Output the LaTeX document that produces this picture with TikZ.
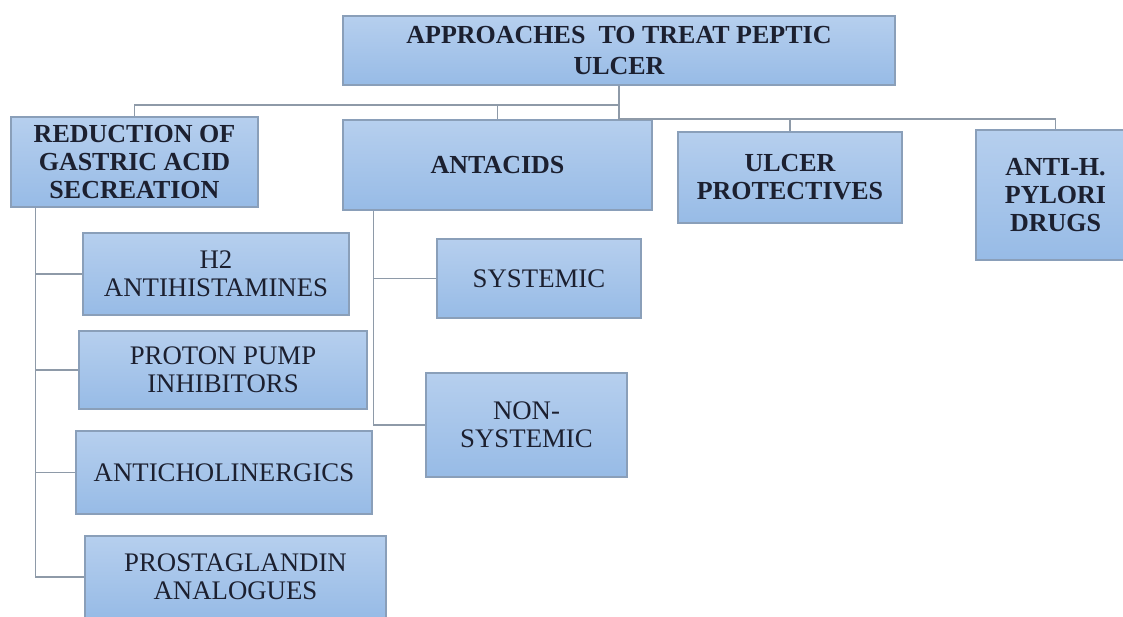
\documentclass[tikz,border=0pt]{standalone}
\usepackage{fontspec}
\setmainfont{Liberation Serif}
\definecolor{boxtop}{HTML}{B6CFEE}
\definecolor{boxbot}{HTML}{97BBE6}
\definecolor{boxedge}{HTML}{8A9FB9}
\definecolor{linkc}{HTML}{8E9AA8}
\definecolor{txtc}{HTML}{1C2030}
\tikzset{
  box/.style={draw=boxedge, line width=1.3pt, top color=boxtop, bottom color=boxbot,
    align=center, inner sep=0pt, text=txtc, anchor=center},
  hbox/.style={box, font=\fontsize{26}{28}\selectfont\bfseries},
  sbox/.style={box, font=\fontsize{26.8}{27.5}\selectfont},
  link/.style={draw=linkc, line width=1.5pt}
}
\begin{document}
\begin{tikzpicture}[x=1pt,y=-1pt]
\useasboundingbox (0,0) rectangle (1123,617);
\clip (0,0) rectangle (1123,617);
\fill[white] (0,0) rectangle (1123,617);
% main boxes
\node[hbox, minimum width=552pt, minimum height=69pt, font=\fontsize{26}{31}\selectfont\bfseries] (root) at (619,50.5) {APPROACHES\ \ TO TREAT PEPTIC\\ULCER};
\node[hbox, minimum width=247pt, minimum height=90pt] (red) at (134.5,162) {REDUCTION OF\\GASTRIC ACID\\SECREATION};
\node[hbox, minimum width=309pt, minimum height=90pt] (ant) at (497.5,165) {ANTACIDS};
\node[hbox, minimum width=224pt, minimum height=91pt] (ulc) at (790,177.5) {ULCER\\PROTECTIVES};
\node[hbox, minimum width=159pt, minimum height=130pt] (antih) at (1055.5,195) {ANTI-H.\\PYLORI\\DRUGS};
% sub boxes
\node[sbox, minimum width=266pt, minimum height=82pt] (h2) at (216,274) {H2\\ANTIHISTAMINES};
\node[sbox, minimum width=288pt, minimum height=78pt] (ppi) at (223,370) {PROTON PUMP\\INHIBITORS};
\node[sbox, minimum width=296pt, minimum height=83pt] (achol) at (224,472.5) {ANTICHOLINERGICS};
\node[sbox, minimum width=301pt, minimum height=82pt] (pros) at (235.5,577) {PROSTAGLANDIN\\ANALOGUES};
\node[sbox, minimum width=204pt, minimum height=79pt] (sys) at (539,278.5) {SYSTEMIC};
\node[sbox, minimum width=201pt, minimum height=104pt] (nons) at (526.5,425) {NON-\\SYSTEMIC};
% bus coordinates
\coordinate (busA) at (619,105);
\coordinate (busB) at (619,119);
\coordinate (rv) at ([xshift=25pt]red.south west);
\coordinate (av) at ([xshift=31pt]ant.south west);
% top connectors
\draw[link] (root.south) -- (busB) -| (antih.north);
\draw[link] (ulc.north) -- (ulc.north |- busB);
\draw[link] (busA) -| (red.north);
\draw[link] (ant.north) -- (ant.north |- busA);
% left branch
\draw[link] (rv) |- (pros.west);
\draw[link] (rv) |- (h2.west);
\draw[link] (rv) |- (ppi.west);
\draw[link] (rv) |- (achol.west);
% antacid branch
\draw[link] (av) |- (nons.west);
\draw[link] (av) |- (sys.west);
\end{tikzpicture}
\end{document}
